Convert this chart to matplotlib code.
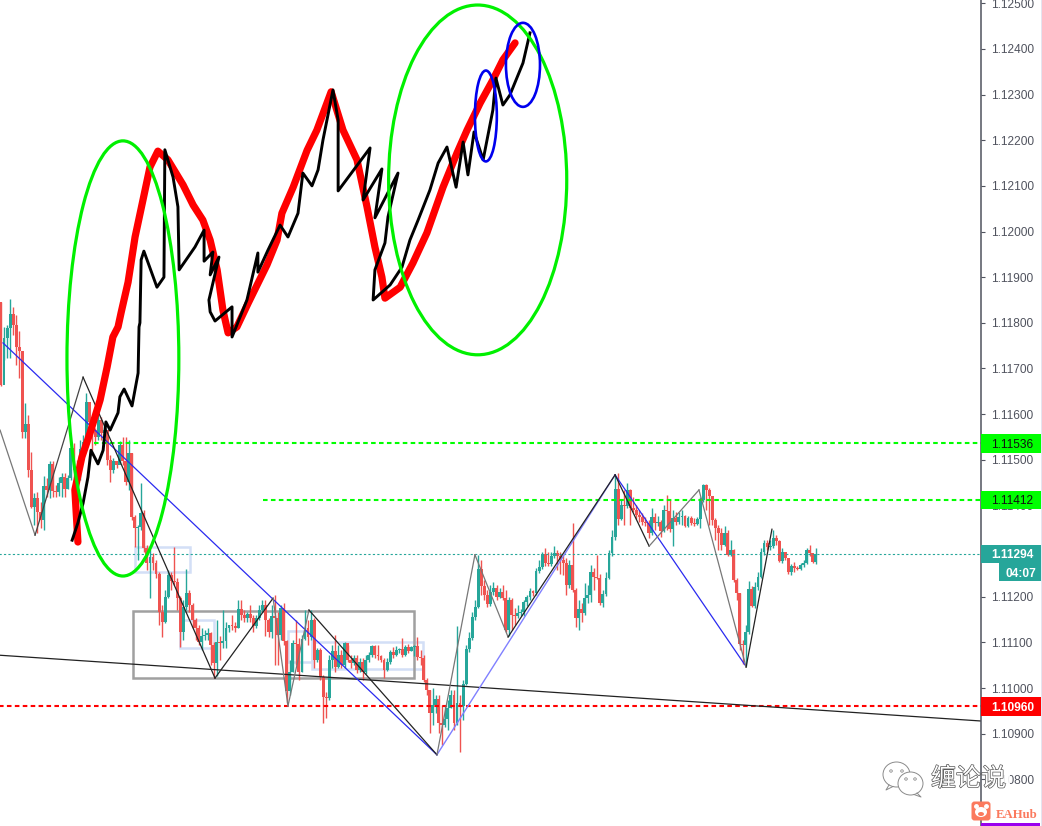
import numpy as np
import matplotlib
matplotlib.use("Agg")
import matplotlib.pyplot as plt
import matplotlib.patheffects as pe
from matplotlib.patches import Ellipse, Rectangle, FancyBboxPatch

# === 1. Data (all prices in points above 1.10000, 1000 pts = 1.11000) ===
first_open = 1846
closes = [
    1664, 1767, 1789, 1819, 1795, 1747, 1738, 1561, 1578, 1478,
    1397, 1416, 1386, 1368, 1443, 1434, 1491, 1432, 1430, 1449,
    1462, 1436, 1460, 1526, 1478, 1465, 1524, 1539, 1627, 1583,
    1565, 1550, 1587, 1559, 1565, 1500, 1478, 1497, 1489, 1532,
    1497, 1451, 1515, 1375, 1351, 1353, 1384, 1307, 1274, 1287,
    1274, 1250, 1167, 1145, 1200, 1248, 1235, 1232, 1197, 1123,
    1178, 1208, 1182, 1149, 1132, 1101, 1114, 1116, 1121, 1094,
    1055, 1101, 1099, 1103, 1132, 1138, 1136, 1132, 1173, 1160,
    1154, 1162, 1154, 1136, 1154, 1171, 1182, 1149, 1123, 1158,
    1154, 1116, 1175, 1103, 994, 1035, 1099, 1097, 1035, 1108,
    1132, 1112, 1149, 1061, 1083, 1024, 980, 978, 1061, 1081,
    1046, 1072, 1051, 1099, 1061, 1055, 1066, 1039, 1057, 1035,
    1061, 1072, 1092, 1072, 1070, 1061, 1039, 1057, 1079, 1072,
    1083, 1086, 1072, 1090, 1081, 1090, 1092, 1068, 1066, 1017,
    996, 946, 963, 976, 924, 919, 932, 957, 985, 924,
    967, 961, 1009, 1086, 1110, 1156, 1178, 1261, 1224, 1204,
    1184, 1211, 1219, 1200, 1211, 1197, 1127, 1193, 1160, 1158,
    1165, 1166, 1189, 1200, 1213, 1208, 1257, 1265, 1294, 1274,
    1272, 1289, 1296, 1289, 1281, 1274, 1226, 1270, 1215, 1154,
    1173, 1165, 1197, 1204, 1254, 1243, 1241, 1186, 1206, 1241,
    1296, 1331, 1436, 1370, 1401, 1399, 1434, 1394, 1390, 1379,
    1375, 1364, 1362, 1340, 1375, 1362, 1364, 1344, 1390, 1388,
    1349, 1373, 1364, 1375, 1377, 1355, 1373, 1362, 1359, 1370,
    1412, 1445, 1434, 1421, 1368, 1351, 1340, 1313, 1340, 1291,
    1302, 1237, 1208, 1097, 1094, 1123, 1217, 1180, 1222, 1243,
    1298, 1318, 1309, 1311, 1329, 1322, 1278, 1298, 1285, 1254,
    1267, 1263, 1261, 1270, 1274, 1302, 1296, 1276, 1294,
]
highs = [
    1846, 1791, 1795, 1852, 1835, 1817, 1782, 1738, 1624, 1598,
    1517, 1427, 1429, 1408, 1465, 1460, 1497, 1497, 1445, 1462,
    1471, 1471, 1467, 1532, 1537, 1500, 1543, 1554, 1646, 1627,
    1587, 1570, 1598, 1594, 1576, 1565, 1511, 1504, 1495, 1541,
    1550, 1550, 1543, 1515, 1379, 1357, 1449, 1390, 1313, 1305,
    1296, 1281, 1254, 1182, 1215, 1259, 1254, 1309, 1241, 1202,
    1193, 1261, 1215, 1186, 1154, 1138, 1132, 1127, 1132, 1123,
    1101, 1149, 1114, 1171, 1145, 1138, 1160, 1145, 1193, 1193,
    1171, 1167, 1182, 1160, 1160, 1182, 1193, 1193, 1154, 1182,
    1204, 1167, 1182, 1186, 1105, 1061, 1105, 1149, 1110, 1116,
    1171, 1149, 1171, 1154, 1088, 1088, 1029, 991, 1072, 1094,
    1116, 1094, 1083, 1101, 1094, 1072, 1072, 1072, 1066, 1066,
    1072, 1079, 1094, 1094, 1094, 1072, 1066, 1066, 1083, 1090,
    1092, 1088, 1110, 1094, 1097, 1092, 1094, 1112, 1083, 1072,
    1022, 996, 1000, 985, 985, 963, 963, 974, 996, 996,
    1136, 985, 1017, 1094, 1123, 1167, 1193, 1291, 1281, 1237,
    1215, 1226, 1232, 1226, 1219, 1226, 1215, 1200, 1197, 1175,
    1182, 1173, 1193, 1204, 1219, 1215, 1263, 1281, 1298, 1307,
    1298, 1298, 1311, 1302, 1298, 1291, 1285, 1281, 1362, 1219,
    1193, 1186, 1230, 1226, 1270, 1263, 1291, 1250, 1215, 1254,
    1302, 1346, 1467, 1471, 1412, 1434, 1449, 1436, 1419, 1401,
    1390, 1384, 1375, 1368, 1394, 1384, 1377, 1368, 1401, 1423,
    1412, 1390, 1386, 1386, 1390, 1379, 1377, 1377, 1373, 1375,
    1419, 1447, 1447, 1438, 1421, 1373, 1357, 1351, 1355, 1346,
    1324, 1305, 1241, 1208, 1105, 1138, 1235, 1224, 1233, 1254,
    1307, 1324, 1324, 1324, 1346, 1335, 1324, 1307, 1298, 1285,
    1272, 1276, 1267, 1274, 1281, 1307, 1313, 1291, 1307,
]
lows = [
    1662, 1718, 1723, 1723, 1773, 1708, 1679, 1548, 1548, 1462,
    1394, 1357, 1340, 1351, 1346, 1419, 1417, 1419, 1419, 1421,
    1419, 1419, 1436, 1456, 1460, 1434, 1456, 1511, 1521, 1543,
    1521, 1532, 1543, 1543, 1548, 1489, 1451, 1471, 1482, 1493,
    1489, 1445, 1434, 1368, 1309, 1281, 1346, 1298, 1259, 1197,
    1259, 1241, 1138, 1112, 1143, 1197, 1215, 1226, 1171, 1090,
    1105, 1171, 1167, 1132, 1105, 1094, 1083, 1105, 1105, 1051,
    1022, 1026, 1061, 1088, 1088, 1123, 1127, 1123, 1132, 1149,
    1145, 1145, 1145, 1123, 1132, 1149, 1167, 1114, 1112, 1110,
    1051, 1051, 1105, 1094, 967, 985, 1035, 1051, 1017, 1035,
    1105, 1094, 1105, 1044, 1057, 1017, 924, 935, 974, 1044,
    1035, 1044, 1044, 1044, 1057, 1044, 1051, 1033, 1035, 1017,
    1031, 1057, 1068, 1066, 1061, 1057, 1022, 1037, 1053, 1066,
    1070, 1077, 1068, 1070, 1077, 1081, 1070, 1061, 1051, 1013,
    985, 901, 919, 946, 901, 875, 915, 908, 957, 908,
    919, 860, 930, 1007, 1079, 1105, 1149, 1175, 1204, 1193,
    1178, 1180, 1204, 1193, 1197, 1193, 1123, 1114, 1127, 1138,
    1154, 1158, 1158, 1180, 1193, 1202, 1204, 1252, 1261, 1267,
    1267, 1267, 1285, 1259, 1250, 1248, 1204, 1219, 1211, 1134,
    1127, 1145, 1160, 1186, 1189, 1215, 1239, 1182, 1178, 1202,
    1239, 1289, 1324, 1357, 1368, 1357, 1394, 1357, 1386, 1370,
    1364, 1357, 1355, 1329, 1335, 1346, 1355, 1331, 1342, 1346,
    1342, 1311, 1357, 1359, 1357, 1353, 1353, 1357, 1355, 1357,
    1351, 1408, 1390, 1357, 1357, 1324, 1302, 1302, 1311, 1289,
    1289, 1232, 1193, 1083, 1053, 1048, 1119, 1178, 1175, 1215,
    1241, 1291, 1302, 1302, 1307, 1313, 1276, 1274, 1281, 1250,
    1248, 1254, 1259, 1259, 1265, 1272, 1289, 1274, 1272,
]

# price levels shown as horizontal lines
level_green_a = 1536
level_green_b = 1412
level_last = 1294
level_red = 960
# 1.11300 sits fully behind the last price label, so it is not listed
ytick_pts = [800, 900, 1000, 1100, 1200, 1400, 1500, 1600, 1700, 1800, 1900,
             2000, 2100, 2200, 2300, 2400, 2500]

# zigzag pivots (bar number, points) and the colour of each leg
zig_bars = [-0.3, 11.2, 27.0, 70.4, 89.5, 94.4, 101.3, 143.4, 155.9, 166.8, 202.0, 213.2, 229.6, 245.1, 253.6]
zig_pts = [1565, 1335, 1681, 1022, 1197, 961, 1171, 854, 1292, 1112, 1467, 1311, 1434, 1046, 1348]
zig_cols = ["#777777", "#444444", "#222222", "#222222", "#777777", "#777777", "#222222",
            "#777777", "#777777", "#222222", "#222222", "#777777", "#777777", "#222222"]

# hand drawn strokes
red_bars = [25.3, 24.3, 26.6, 29.3, 32.6, 34.9, 36.8, 38.5, 39.5, 41.8, 44.1, 46.7, 49.0, 51.6, 54.9, 59.9,
            63.2, 66.4, 68.8, 71.1, 73.0, 74.7, 77.6, 81.3, 87.5, 90.8, 92.4, 96.1, 100.7, 103.9, 108.6,
            112.5, 117.1, 120.4, 123.0, 125.3, 126.3, 131.3, 135.5, 140.1, 145.4, 150.0, 153.3, 157.6,
            161.8, 165.1, 169.1]
red_pts = [1320, 1434, 1506, 1559, 1631, 1703, 1769, 1791, 1822, 1889, 1988, 2069, 2141, 2176, 2157, 2102,
           2058, 2025, 1981, 1916, 1828, 1778, 1791, 1843, 1927, 1981, 2040, 2097, 2178, 2222, 2306,
           2222, 2157, 2054, 1966, 1900, 1854, 1878, 1931, 1997, 2097, 2172, 2222, 2281,
           2332, 2376, 2413]
black_bars = [23.4, 25.3, 27.0, 28.6, 29.6, 31.9, 33.6, 34.5, 35.9, 38.5, 39.1, 40.5, 43.1, 45.1, 45.4, 45.7,
              46.1, 47.0, 51.3, 53.6, 53.9, 56.6, 58.2, 58.6, 63.8, 66.8, 66.8, 69.7, 68.8, 71.7, 68.4, 68.8,
              70.4, 76.0, 76.0, 80.9, 84.5, 84.5, 87.8, 91.8, 94.4, 97.7, 99.3, 102.3, 104.3, 105.9, 109.2,
              110.9, 110.9, 121.4, 119.1, 125.3, 123.0, 130.6, 127.3, 126.3, 123.0, 122.4, 128.0, 131.9,
              134.5, 137.2, 141.1, 143.8, 146.7, 149.7, 152.0, 153.6, 155.6, 158.6, 161.8, 162.8, 165.1,
              167.4, 171.7, 174.0]
black_pts = [1324, 1362, 1405, 1462, 1521, 1491, 1521, 1583, 1565, 1603, 1638, 1655, 1618, 1690, 1791, 1800,
             1938, 1957, 1878, 1900, 2179, 2119, 2054, 1916, 1966, 2003, 1935, 1955, 1905, 1944, 1850, 1824,
             1804, 1835, 1769, 1850, 1953, 1911, 1959, 2014, 1988, 2040, 2128, 2100, 2135, 2200, 2310,
             2244, 2089, 2183, 2069, 2137, 2030, 2128, 2032, 1975, 1916, 1850, 1883, 1922,
             1981, 2025, 2091, 2150, 2185, 2097, 2196, 2124, 2218, 2157, 2266, 2336, 2277,
             2299, 2369, 2435]


def price(pts):
    return 1.10 + np.asarray(pts, dtype=float) / 100000


# === 2. Axes ===
W, H = 1042, 826
BAR_PX = 3.04
AXIS_PX = 981
fig = plt.figure(figsize=(W / 100, H / 100), dpi=100, facecolor="white")
plt.rcParams["font.family"] = ["Liberation Sans", "DejaVu Sans"]

ax = fig.add_axes([0, 0, AXIS_PX / W, 1])
ax.set_xlim(-1 / BAR_PX, (AXIS_PX - 1) / BAR_PX)
ymax, ymin = price(2507), price(2507 - 2.19 * H)
ax.set_ylim(ymin, ymax)
ax.axis("off")

ax_r = fig.add_axes([AXIS_PX / W, 0, (W - AXIS_PX) / W, 1])
ax_r.set_xlim(0, 1)
ax_r.set_ylim(ymin, ymax)
ax_r.set_xticks([])
for side in ["top", "bottom", "right"]:
    ax_r.spines[side].set_visible(False)
ax_r.spines["left"].set_color("#50535E")
ax_r.spines["left"].set_linewidth(1.1)
ax_r.yaxis.tick_right()
ax_r.set_yticks(price(ytick_pts))
ax_r.set_yticklabels([f"{1.10 + v / 100000:.5f}" for v in ytick_pts])
ax_r.tick_params(axis="y", direction="in", length=0, pad=-36.7, labelsize=8.6, labelcolor="#50535E")
for t in price(ytick_pts):
    ax_r.plot([0, 0.07], [t, t], color="#50535E", lw=0.8, zorder=2, solid_capstyle="butt")

# === 3. Boxes behind the candles ===
for b0, b1, p0, p1 in [(44.1, 62.2, 1309, 1254), (58.9, 70.1, 1149, 1088),
                       (94.4, 102.3, 1125, 1057), (102.3, 138.8, 1101, 1042)]:
    ax.add_patch(Rectangle((b0, price(p1)), b1 - b0, price(p0) - price(p1), fill=False,
                           edgecolor="#D3DFF6", lw=1.8, zorder=1))
ax.add_patch(Rectangle((43.4, price(1022)), 135.9 - 43.4, price(1169) - price(1022), fill=False,
                       edgecolor="#A0A0A0", lw=1.8, zorder=1.5))

# === 4. Candles (each one opens at the previous close) ===
closes_p = price(closes)
opens_p = np.r_[price(first_open), closes_p[:-1]]
highs_p = price(highs)
lows_p = price(lows)
bars = np.arange(len(closes))
colors = np.where(closes_p >= opens_p, "#26A69A", "#EF5350")
ax.vlines(bars, lows_p, highs_p, colors=colors, lw=1.0, zorder=2)
body_h = np.maximum(np.abs(closes_p - opens_p), 0.00002)
ax.bar(bars, body_h, bottom=np.minimum(opens_p, closes_p), width=0.95, color=colors, lw=0, zorder=2.2)

# === 5. Levels and trend lines ===
dash = (0, (2.2, 1.6))
ax.plot([30.5, 330], price([level_green_a, level_green_a]), color="#00FF00", lw=1.5, ls=dash, zorder=3)
ax.plot([86.2, 330], price([level_green_b, level_green_b]), color="#00FF00", lw=1.5, ls=dash, zorder=3)
ax.plot([-1, 330], price([level_red, level_red]), color="#FF0000", lw=1.5, ls=dash, zorder=3)
ax.plot([-1, 330], price([level_last, level_last]), color="#26A69A", lw=0.8, ls=(0, (2, 2)), zorder=3)

ax.plot([-0.3, 322.4], price([1072, 928]), color="#222222", lw=0.9, zorder=3.1)
ax.plot([0.66, 143.4], price([1756, 854]), color="#2A2AF0", lw=0.9, zorder=3.1)
ax.plot([143.4, 202.0], price([854, 1467]), color="#8080FF", lw=1.0, zorder=3.1)
ax.plot([202.0, 244.7], price([1467, 1051]), color="#2A2AF0", lw=0.9, zorder=3.1)
for n, col in enumerate(zig_cols):
    ax.plot(zig_bars[n:n + 2], price(zig_pts[n:n + 2]), color=col, lw=0.9, zorder=3.2)

# === 6. Hand drawn strokes ===
ax.plot(red_bars, price(red_pts), color="#FF0000", lw=5.2, zorder=4, solid_joinstyle="round", solid_capstyle="round")
ax.plot(black_bars, price(black_pts), color="#000000", lw=2.1, zorder=4.2, solid_joinstyle="round")
for cb, cp, wb, hp, col, lw in [(40.1, 1722, 36.8, 953, "#00F000", 2.3), (156.8, 2113, 58.6, 766, "#00F000", 2.3),
                                (159.5, 2253, 7.2, 199, "#0000EE", 1.9), (171.7, 2365, 11.2, 184, "#0000EE", 1.9)]:
    ax.add_patch(Ellipse((cb, price(cp)), wb, hp * 1e-5, fill=False, edgecolor=col, lw=lw, zorder=4.5))

# === 7. Price labels on the axis ===
for pts, bg, fg, weight in [(level_green_a, "#00FF00", "#111111", "normal"), (level_green_b, "#00FF00", "#111111", "normal"),
                            (level_last, "#26A69A", "white", "bold"), (level_red, "#FF0000", "white", "bold")]:
    ax_r.add_patch(Rectangle((0, price(pts - 20)), 0.98, 40e-5, color=bg, lw=0, zorder=5))
    ax_r.text(0.16, price(pts), f"{price(pts):.5f}", color=fg, fontsize=8.6, fontweight=weight,
              va="center_baseline", zorder=6)
ax_r.add_patch(Rectangle((0.295, price(level_last - 60)), 0.685, 40e-5, color="#26A69A", lw=0, zorder=5))
ax_r.text(0.4, price(level_last - 40), "04:07", color="white", fontsize=8.6, fontweight="bold",
          va="center_baseline", zorder=6)

# === 8. Watermark and edge marks, in picture pixels ===
over = fig.add_axes([0, 0, 1, 1], facecolor="none")
over.set_xlim(0, W)
over.set_ylim(H, 0)
over.axis("off")
over.add_patch(Rectangle((1040.5, 0), 1.5, H, color="#E4E4F0", lw=0))
over.add_patch(Rectangle((981, 822.5), 59, 3.5, color="#9900EE", lw=0))

over.add_patch(Rectangle((985, 768), 25, 24, color="white", alpha=0.9, lw=0))
over.text(931, 779, "缠论说", family=["Noto Sans CJK SC", "DejaVu Sans"], fontsize=18, color="white",
          va="center", ha="left", path_effects=[pe.withStroke(linewidth=1.0, foreground="#555555")])
over.add_patch(Ellipse((896.5, 774.5), 27, 25, facecolor="white", edgecolor="#8A8A8A", lw=0.7))
over.plot([889, 886, 893], [785, 790, 786.5], color="#8A8A8A", lw=0.7)
over.add_patch(Ellipse((910.5, 783.5), 25, 23, facecolor="white", edgecolor="#8A8A8A", lw=0.7))
over.plot([917, 921, 914], [793, 797, 794.5], color="#8A8A8A", lw=0.7)
for ex, ey in [(891, 771), (902, 771), (906, 779), (915, 779)]:
    over.add_patch(Ellipse((ex, ey), 2.6, 2.4, facecolor="white", edgecolor="#8A8A8A", lw=0.6))

over.add_patch(FancyBboxPatch((973, 803), 16, 16, boxstyle="round,pad=1.5,rounding_size=3", color="#FB7A5E", lw=0))
over.add_patch(Ellipse((981, 812), 12, 10, color="white", lw=0))
over.add_patch(Ellipse((981, 814), 6, 4, color="#FB7A5E", lw=0))
over.plot([976, 986], [806, 806], ls="none", marker="o", ms=2.5, color="white")
over.text(996, 814.5, "EAHub", family="Liberation Serif", fontweight="bold", fontsize=9.2, color="#FB7A5E",
          va="center", ha="left")

fig.savefig("out.png", dpi=100)
